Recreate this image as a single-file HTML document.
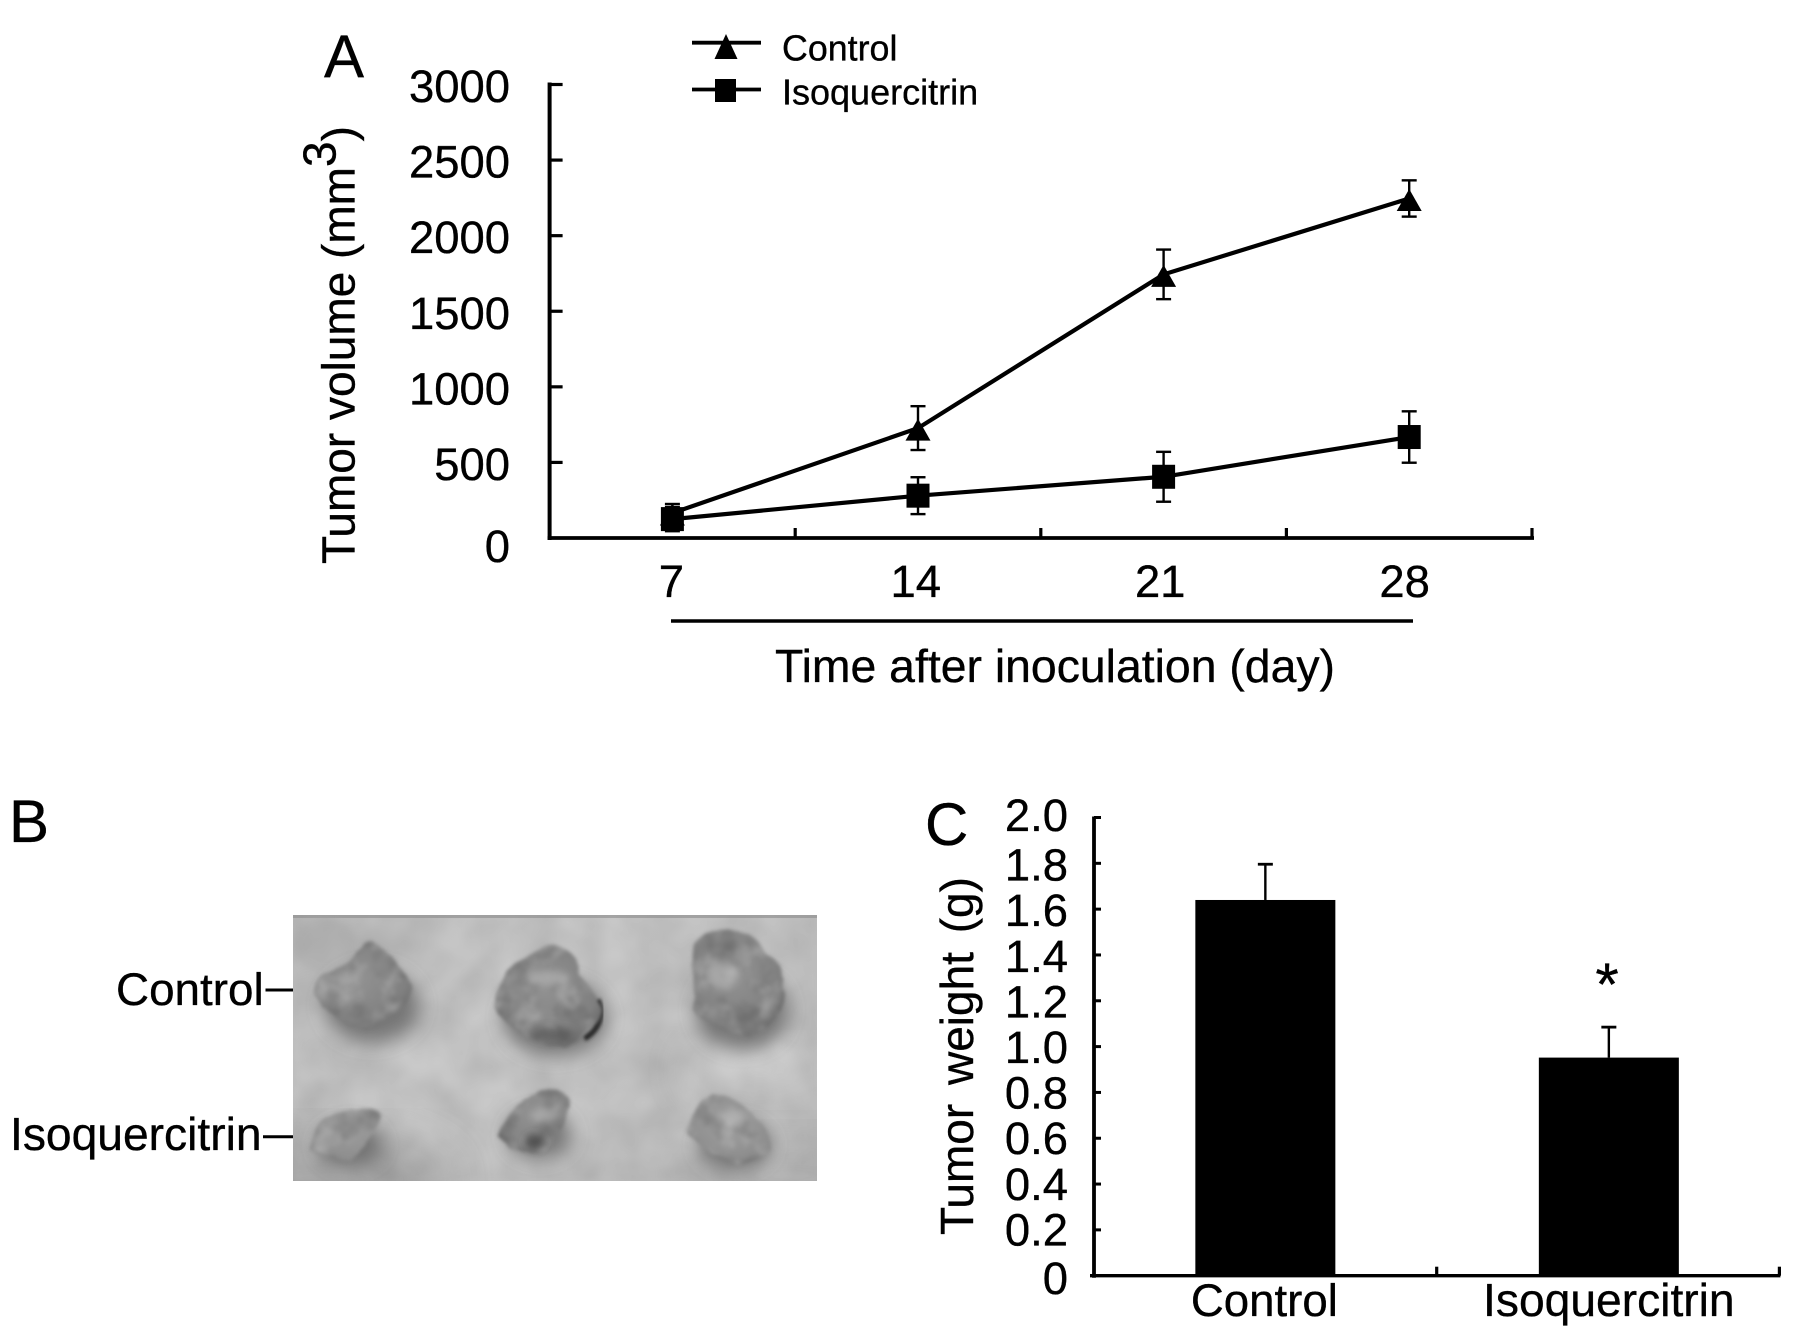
<!DOCTYPE html>
<html lang="en">
<head>
<meta charset="utf-8">
<title>Tumor volume and weight, control vs isoquercitrin</title>
<style>
html,body{margin:0;padding:0;background:#fff;width:1795px;height:1340px;overflow:hidden}
svg{display:block}
text{font-family:"Liberation Sans",Arial,sans-serif;fill:#000;stroke:#000;stroke-width:.35px}
</style>
</head>
<body>
<svg id="figure" width="1795" height="1340" viewBox="0 0 1795 1340" xmlns="http://www.w3.org/2000/svg">
<defs>
<linearGradient id="photoBg" x1="0" y1="0" x2="1" y2="0.5">
<stop offset="0" stop-color="#b6b6b6"/>
<stop offset="0.45" stop-color="#c4c4c4"/>
<stop offset="1" stop-color="#bababa"/>
</linearGradient>
<radialGradient id="tumorDark" cx="0.45" cy="0.4" r="0.7">
<stop offset="0" stop-color="#929292"/>
<stop offset="0.7" stop-color="#808080"/>
<stop offset="1" stop-color="#626262"/>
</radialGradient>
<radialGradient id="tumorLight" cx="0.5" cy="0.4" r="0.7">
<stop offset="0" stop-color="#a0a0a0"/>
<stop offset="0.7" stop-color="#8e8e8e"/>
<stop offset="1" stop-color="#787878"/>
</radialGradient>
<filter id="tumorFx" x="-15%" y="-15%" width="130%" height="130%" color-interpolation-filters="sRGB">
<feTurbulence type="fractalNoise" baseFrequency="0.045" numOctaves="3" seed="7" result="n"/>
<feDisplacementMap in="SourceGraphic" in2="n" scale="7" xChannelSelector="R" yChannelSelector="G" result="d"/>
<feColorMatrix in="n" type="matrix" values="0 0 0 0 0.8  0 0 0 0 0.8  0 0 0 0 0.8  1.1 0 0 0 -0.52" result="light"/>
<feComposite in="light" in2="d" operator="in" result="lightIn"/>
<feColorMatrix in="n" type="matrix" values="0 0 0 0 0.3  0 0 0 0 0.3  0 0 0 0 0.3  0 1.0 0 0 -0.5" result="dark"/>
<feComposite in="dark" in2="d" operator="in" result="darkIn"/>
<feMerge result="m"><feMergeNode in="d"/><feMergeNode in="lightIn"/><feMergeNode in="darkIn"/></feMerge>
<feGaussianBlur in="m" stdDeviation="1.8"/>
</filter>
<filter id="soft" x="-20%" y="-20%" width="140%" height="140%"><feGaussianBlur stdDeviation="1.6"/></filter>
<filter id="shadow" x="-40%" y="-40%" width="180%" height="180%"><feGaussianBlur stdDeviation="9"/></filter>
<filter id="spot" x="-60%" y="-60%" width="220%" height="220%"><feGaussianBlur stdDeviation="4"/></filter>
<filter id="wide" x="-30%" y="-30%" width="160%" height="160%"><feGaussianBlur stdDeviation="22"/></filter>
<filter id="grain" x="0" y="0" width="100%" height="100%" color-interpolation-filters="sRGB">
<feTurbulence type="fractalNoise" baseFrequency="0.025" numOctaves="3" seed="4"/>
<feColorMatrix type="matrix" values="1.2 0 0 0 0.1  1.2 0 0 0 0.1  1.2 0 0 0 0.1  0 0 0 0 0.1"/>
<feGaussianBlur stdDeviation="3"/>
</filter>
<clipPath id="photoClip"><rect x="293" y="915" width="524" height="266"/></clipPath>
</defs>

<!-- Panel A static text -->
<g id="panelA">
<text x="324" y="77" font-size="60">A</text>
<text transform="translate(354.6,564) rotate(-90)" font-size="46">Tumor volume (mm<tspan dy="-19">3</tspan><tspan dy="19">)</tspan></text>
<text x="775" y="682" font-size="46" textLength="560" lengthAdjust="spacingAndGlyphs">Time after inoculation (day)</text>
<line x1="671" y1="621" x2="1413" y2="621" stroke="#000" stroke-width="3.4"/>
<g>
<g>
<line x1="692" y1="42.7" x2="761" y2="42.7" stroke="#000" stroke-width="3.8"/>
<polygon points="726,34 737.5,59 714.5,59" fill="#000"/>
<text x="782" y="60.6" font-size="35.8">Control</text>
</g>
<g>
<line x1="692" y1="89.5" x2="761" y2="89.5" stroke="#000" stroke-width="3.8"/>
<rect x="715" y="79" width="21" height="23" fill="#000"/>
<text x="782" y="104.7" font-size="36">Isoquercitrin</text>
</g>
</g>
</g>

<!-- Panel B -->
<g id="panelB">
<text x="9" y="842" font-size="60">B</text>
<text x="116" y="1005" font-size="45.8">Control</text>
<text x="10" y="1150" font-size="46.2">Isoquercitrin</text>
<line x1="265.5" y1="990" x2="293" y2="990" stroke="#000" stroke-width="3"/>
<line x1="263" y1="1136.7" x2="293" y2="1136.7" stroke="#000" stroke-width="3"/>
<g clip-path="url(#photoClip)">
<rect x="293" y="915" width="524" height="266" fill="url(#photoBg)"/>
<ellipse cx="330" cy="1180" rx="120" ry="45" fill="#8a8a8a" opacity="0.6" filter="url(#wide)"/>
<ellipse cx="790" cy="1175" rx="120" ry="35" fill="#909090" opacity="0.35" filter="url(#wide)"/>
<ellipse cx="760" cy="1070" rx="70" ry="25" fill="#dcdcdc" opacity="0.5" filter="url(#wide)"/>
<rect x="293" y="915" width="524" height="266" filter="url(#grain)"/>
<rect x="293" y="915" width="524" height="3" fill="#8c8c8c" opacity="0.6"/>
<ellipse cx="325" cy="945" rx="32" ry="28" fill="#a8a8a8" opacity="0.45" filter="url(#spot)"/>
<g filter="url(#shadow)" fill="#5c5c5c" opacity="0.7">
<ellipse cx="372" cy="1005" rx="48" ry="38"/>
<ellipse cx="555" cy="1018" rx="52" ry="38"/>
<ellipse cx="742" cy="1010" rx="46" ry="40"/>
<ellipse cx="350" cy="1145" rx="32" ry="22"/>
<ellipse cx="540" cy="1135" rx="32" ry="24"/>
<ellipse cx="735" cy="1145" rx="36" ry="24"/>
</g>
<path d="M597 1000 C604 1015 598 1030 584 1038" fill="none" stroke="#2c2c2c" stroke-width="7" filter="url(#soft)"/>
<g filter="url(#tumorFx)" transform="translate(3.5,3)">
<path fill="url(#tumorDark)" d="M368 939 C381 941 396 961 406 981 C409 1001 391 1016 364 1028 C341 1021 314 1011 311 986 C312 971 336 964 348 956 C354 946 361 939 368 939Z"/>
<path fill="url(#tumorDark)" d="M551 942 C568 944 576 958 574 971 C586 981 598 996 597 1011 C594 1026 581 1036 561 1044 C541 1044 511 1031 493 1011 C490 996 496 971 511 961 C526 951 541 942 551 942Z"/>
<path fill="url(#tumorDark)" d="M716 927 C741 924 756 936 764 951 C778 961 783 981 779 1001 C771 1021 761 1026 746 1034 C726 1026 701 1021 690 1006 C693 986 686 956 691 941 C698 931 708 928 716 927Z"/>
<path fill="url(#tumorLight)" d="M341 1109 C356 1104 374 1104 378 1114 C374 1126 361 1141 348 1158 C331 1156 311 1151 306 1144 C311 1131 314 1121 321 1114 C328 1110 336 1110 341 1109Z"/>
<path fill="url(#tumorDark)" d="M531 1091 C541 1084 561 1084 567 1096 C566 1116 554 1131 546 1146 C531 1154 506 1146 494 1136 C494 1121 506 1111 516 1101 C521 1094 526 1093 531 1091Z"/>
<path fill="url(#tumorLight)" d="M708 1093 C721 1088 736 1101 748 1111 C758 1121 768 1136 768 1146 C756 1156 741 1163 731 1161 C711 1151 691 1141 684 1131 C686 1116 696 1096 708 1093Z"/>
</g>
<ellipse cx="553" cy="1034" rx="22" ry="7" fill="#4e4e4e" opacity="0.55" filter="url(#spot)"/>
<ellipse cx="535" cy="1142" rx="10" ry="8" fill="#3e3e3e" opacity="0.7" filter="url(#spot)"/>
<g fill="#b8b8b8" filter="url(#spot)" opacity="0.6">
<ellipse cx="347" cy="980" rx="12" ry="5"/>
<ellipse cx="322" cy="993" rx="5" ry="8"/>
<ellipse cx="548" cy="978" rx="22" ry="7"/>
<ellipse cx="722" cy="975" rx="16" ry="14"/>
<ellipse cx="545" cy="1115" rx="14" ry="8"/>
<ellipse cx="735" cy="1118" rx="12" ry="10"/>
</g>
</g>
</g>

<!-- Panel C static text -->
<g id="panelC">
<text x="925" y="845" font-size="60">C</text>
<text transform="translate(973,1235) rotate(-90)" font-size="46" word-spacing="6">Tumor weight (g)</text>
<text x="1607" y="1005" font-size="60" text-anchor="middle">*</text>
</g>
</svg>

<script>
// Panel A data
const volumeDays = ['7', '14', '21', '28'];
const controlVolume = [165, 727, 1744, 2246];
const controlVolumeError = [60, 145, 164, 120];
const isoVolume = [125, 280, 405, 668];
const isoVolumeError = [80, 122, 165, 170];
const volumeTicks = [0, 500, 1000, 1500, 2000, 2500, 3000];
const volumeTickLabels = ['0', '500', '1000', '1500', '2000', '2500', '3000'];

// Panel C data
const weightCategories = ['Control', 'Isoquercitrin'];
const weightValues = [1.64, 0.952];
const weightErrors = [0.156, 0.133];
const weightTicks = [0, 0.2, 0.4, 0.6, 0.8, 1.0, 1.2, 1.4, 1.6, 1.8, 2.0];
const weightTickLabels = ['0', '0.2', '0.4', '0.6', '0.8', '1.0', '1.2', '1.4', '1.6', '1.8', '2.0'];

const NS = 'http://www.w3.org/2000/svg';
function mk(tag, attrs, parent, content) {
  const el = document.createElementNS(NS, tag);
  for (const k in attrs) el.setAttribute(k, attrs[k]);
  if (content !== undefined) el.textContent = content;
  parent.appendChild(el);
  return el;
}

/* ---------- Panel A ---------- */
const panelA = document.getElementById('panelA');
const A = {left: 549.6, right: 1532, bottom: 538, top: 84.5, max: 3000};
const bandA = (A.right - A.left) / volumeDays.length;
function xA(i) { return A.left + (i + 0.5) * bandA; }
function xTickA(i) { return A.left + i * bandA; }
function yA(v) { return A.bottom - v / A.max * (A.bottom - A.top); }
function yLabelA(v) { return 555.5 - v / A.max * 453.5 + (v === 0 ? 6.5 : 0); }
function xLabelA(i) { return xA(i) - 1 - i * 1.2; }

const axisAY = mk('line', {x1: A.left, y1: A.top - 2, x2: A.left, y2: A.bottom + 2, stroke: '#000', 'stroke-width': 4}, panelA);


const axisAX = mk('line', {x1: A.left - 2, y1: A.bottom, x2: A.right + 2, y2: A.bottom, stroke: '#000', 'stroke-width': 3.8}, panelA);



volumeTicks.forEach(function (v, i) {
  if (v > 0) {
    const t = mk('line', {x1: A.left, y1: yA(v), x2: A.left + 13, y2: yA(v), stroke: '#000', 'stroke-width': 3.2}, panelA);
    
    
  }
  const l = mk('text', {x: 510, y: yLabelA(v), 'font-size': 45.4, 'text-anchor': 'end'}, panelA, volumeTickLabels[i]);
  
  
});

for (let i = 1; i <= volumeDays.length; i++) {
  const t = mk('line', {x1: xTickA(i), y1: A.bottom, x2: xTickA(i), y2: A.bottom - 10, stroke: '#000', 'stroke-width': 3.2}, panelA);
  
  
}

volumeDays.forEach(function (d, i) {
  const l = mk('text', {x: xLabelA(i), y: 597, 'font-size': 45.4, 'text-anchor': 'middle'}, panelA, d);
  
  
});

function drawErrorA(x, v, e) {
  const g = mk('g', {stroke: '#000', 'stroke-width': 2.4}, panelA);
  
  
  const hi = yA(v + e), lo = yA(v - e);
  mk('line', {x1: x, y1: hi, x2: x, y2: lo}, g);
  mk('line', {x1: x - 7.5, y1: hi, x2: x + 7.5, y2: hi}, g);
  mk('line', {x1: x - 7.5, y1: lo, x2: x + 7.5, y2: lo}, g);
}

function polylinePoints(vals) {
  return vals.map(function (v, i) { return xA(i) + ',' + yA(v); }).join(' ');
}

controlVolume.forEach(function (v, i) { drawErrorA(xA(i), v, controlVolumeError[i]); });
isoVolume.forEach(function (v, i) { drawErrorA(xA(i), v, isoVolumeError[i]); });

const lineControl = mk('polyline', {points: polylinePoints(controlVolume), fill: 'none', stroke: '#000', 'stroke-width': 4.2}, panelA);


const lineIso = mk('polyline', {points: polylinePoints(isoVolume), fill: 'none', stroke: '#000', 'stroke-width': 4.2}, panelA);



controlVolume.forEach(function (v, i) {
  const x = xA(i), y = yA(v);
  const m = mk('polygon', {points: x + ',' + (y - 9.5) + ' ' + (x + 12.5) + ',' + (y + 12.5) + ' ' + (x - 12.5) + ',' + (y + 12.5), fill: '#000'}, panelA);
  
  
});
isoVolume.forEach(function (v, i) {
  const x = xA(i), y = yA(v);
  const m = mk('rect', {x: x - 11.5, y: y - 12, width: 23, height: 24, fill: '#000'}, panelA);
  
  
});

/* ---------- Panel C ---------- */
const panelC = document.getElementById('panelC');
const C = {left: 1094, right: 1779.4, bottom: 1275.7, top: 817.5, max: 2};
const bandC = (C.right - C.left) / weightCategories.length;
function xC(i) { return C.left + (i + 0.5) * bandC; }
function xTickC(i) { return C.left + i * bandC; }
function yC(v) { return C.bottom - v / C.max * (C.bottom - C.top); }
function yLabelC(v) { return 1291 - v / C.max * 456 + (v === 0 ? 3 : 0) + (v === 2 ? -4 : 0); }
const barWidthC = 140;

weightValues.forEach(function (v, i) {
  const x = xC(i) + (i === 0 ? 0 : 0.8);
  const hi = yC(v + weightErrors[i]);
  const e = mk('line', {x1: x, y1: hi, x2: x, y2: yC(v), stroke: '#000', 'stroke-width': 2.4}, panelC);
  
  
  const c = mk('line', {x1: x - 7.5, y1: hi, x2: x + 7.5, y2: hi, stroke: '#000', 'stroke-width': 2.8}, panelC);
  
  
  const b = mk('rect', {x: x - barWidthC / 2, y: yC(v), width: barWidthC, height: C.bottom - yC(v), fill: '#000'}, panelC);
  
  
  const l = mk('text', {x: x + (i === 0 ? -1 : 0), y: 1316, 'font-size': i === 0 ? 45.6 : 46.2, 'text-anchor': 'middle'}, panelC, weightCategories[i]);
  
  
});

const axisCY = mk('line', {x1: C.left, y1: C.top - 1, x2: C.left, y2: C.bottom + 2, stroke: '#000', 'stroke-width': 3.8}, panelC);


const axisCX = mk('line', {x1: C.left - 4, y1: C.bottom, x2: C.right + 1, y2: C.bottom, stroke: '#000', 'stroke-width': 3.4}, panelC);



weightTicks.forEach(function (v, i) {
  if (v > 0) {
    const t = mk('line', {x1: C.left, y1: yC(v), x2: C.left + 7, y2: yC(v), stroke: '#000', 'stroke-width': 3}, panelC);
    
    
  }
  const l = mk('text', {x: 1068, y: yLabelC(v), 'font-size': 45.4, 'text-anchor': 'end'}, panelC, weightTickLabels[i]);
  
  
});

for (let i = 1; i <= weightCategories.length; i++) {
  const t = mk('line', {x1: xTickC(i), y1: C.bottom, x2: xTickC(i), y2: C.bottom - 9, stroke: '#000', 'stroke-width': 3.2}, panelC);
  
  
}
</script>
</body>
</html>
